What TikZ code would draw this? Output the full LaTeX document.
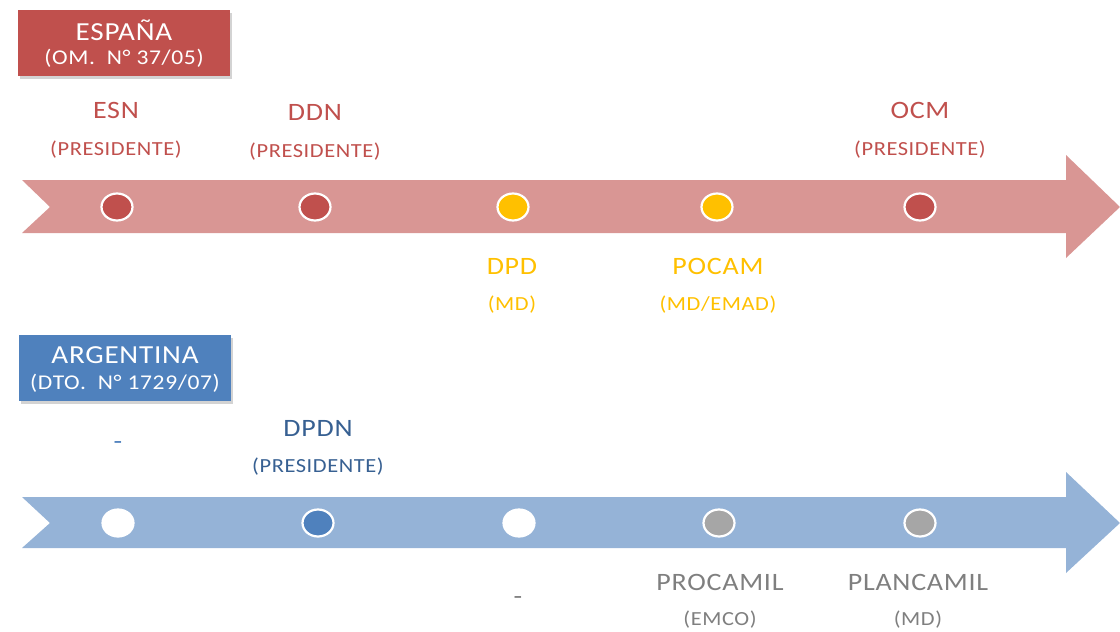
\documentclass[tikz,border=0pt]{standalone}
\usepackage{fontspec}
\setmainfont{Carlito}[FakeStretch=1.12,LetterSpace=3]
\usetikzlibrary{shapes.geometric,shadows}
\definecolor{redarrow}{HTML}{D99694}
\definecolor{reddot}{HTML}{C0504D}
\definecolor{yellowdot}{HTML}{FFC000}
\definecolor{bluearrow}{HTML}{95B3D7}
\definecolor{bluedot}{HTML}{4F81BD}
\definecolor{bluetext}{HTML}{376092}
\definecolor{graydot}{HTML}{A6A6A6}
\definecolor{graytext}{HTML}{7F7F7F}
\begin{document}
\begin{tikzpicture}[x=1pt,y=-1pt,
  dot/.style={ellipse,minimum width=31pt,minimum height=27pt,inner sep=0pt,draw=white,line width=2.2pt},
  bigl/.style={font=\fontsize{25}{28}\selectfont,inner sep=0pt},
  smalll/.style={font=\fontsize{20}{22}\selectfont,inner sep=0pt},
  tag/.style={minimum width=212pt,minimum height=66pt,inner sep=0pt,
    drop shadow={shadow xshift=2pt,shadow yshift=-3pt,opacity=0.35}},
  tagtop/.style={text=white,inner sep=0pt,font=\fontsize{26}{28}\selectfont},
  tagbot/.style={text=white,inner sep=0pt,font=\fontsize{21}{24}\selectfont}
]
\useasboundingbox (0,0) rectangle (1120,632);
% arrows
\fill[redarrow] (22,180) -- (1066,180) -- (1066,155) -- (1120,207) -- (1066,258) -- (1066,233) -- (22,233) -- (50,207) -- cycle;
\fill[bluearrow] (22,497) -- (1066,497) -- (1066,472) -- (1120,523) -- (1066,573) -- (1066,548) -- (22,548) -- (50,523) -- cycle;
% tags
\node[tag,fill=reddot] (espana) at (124,43) {};
\node[tagtop] (espana1) at (124,30) {ESPAÑA};
\node[tagbot] (espana2) at (124,58) {(OM.\ \ N° 37/05)};
\node[tag,fill=bluedot] (argentina) at (125,368) {};
\node[tagtop] (argentina1) at (125,355) {ARGENTINA};
\node[tagbot] (argentina2) at (125,383) {(DTO.\ \ N° 1729/07)};
% red row dots
\node[dot,fill=reddot] (d1) at (117,207) {};
\node[dot,fill=reddot] (d2) at (315,207) {};
\node[dot,fill=yellowdot] (d3) at (513,207) {};
\node[dot,fill=yellowdot] (d4) at (717,207) {};
\node[dot,fill=reddot] (d5) at (920,207) {};
% blue row dots
\node[dot,fill=white] (e1) at (118,523) {};
\node[dot,fill=bluedot] (e2) at (318,523) {};
\node[dot,fill=white] (e3) at (519,523) {};
\node[dot,fill=graydot] (e4) at (719,523) {};
\node[dot,fill=graydot] (e5) at (920,523) {};
% Spain labels
\node[bigl,text=reddot] (esn) at (116,110) {ESN};
\node[smalll,text=reddot] (esnp) at (116,150) {(PRESIDENTE)};
\node[bigl,text=reddot] (ddn) at (315,112) {DDN};
\node[smalll,text=reddot] (ddnp) at (315,152) {(PRESIDENTE)};
\node[bigl,text=reddot] (ocm) at (920,110) {OCM};
\node[smalll,text=reddot] (ocmp) at (920,150) {(PRESIDENTE)};
\node[bigl,text=yellowdot] (dpd) at (512,266) {DPD};
\node[smalll,text=yellowdot] (dpdp) at (512,305) {(MD)};
\node[bigl,text=yellowdot] (pocam) at (718,266) {POCAM};
\node[smalll,text=yellowdot] (pocamp) at (718,305) {(MD/EMAD)};
% Argentina labels
\node[bigl,text=bluedot] (dash1) at (118,446) {-};
\node[bigl,text=bluetext] (dpdn) at (318,428) {DPDN};
\node[smalll,text=bluetext] (dpdnp) at (318,467) {(PRESIDENTE)};
\node[bigl,text=graytext] (dash2) at (518,601) {-};
\node[bigl,text=graytext] (procamil) at (720,582) {PROCAMIL};
\node[smalll,text=graytext] (procamilp) at (720,620) {(EMCO)};
\node[bigl,text=graytext] (plancamil) at (918,582) {PLANCAMIL};
\node[smalll,text=graytext] (plancamilp) at (918,620) {(MD)};
\end{tikzpicture}
\end{document}
